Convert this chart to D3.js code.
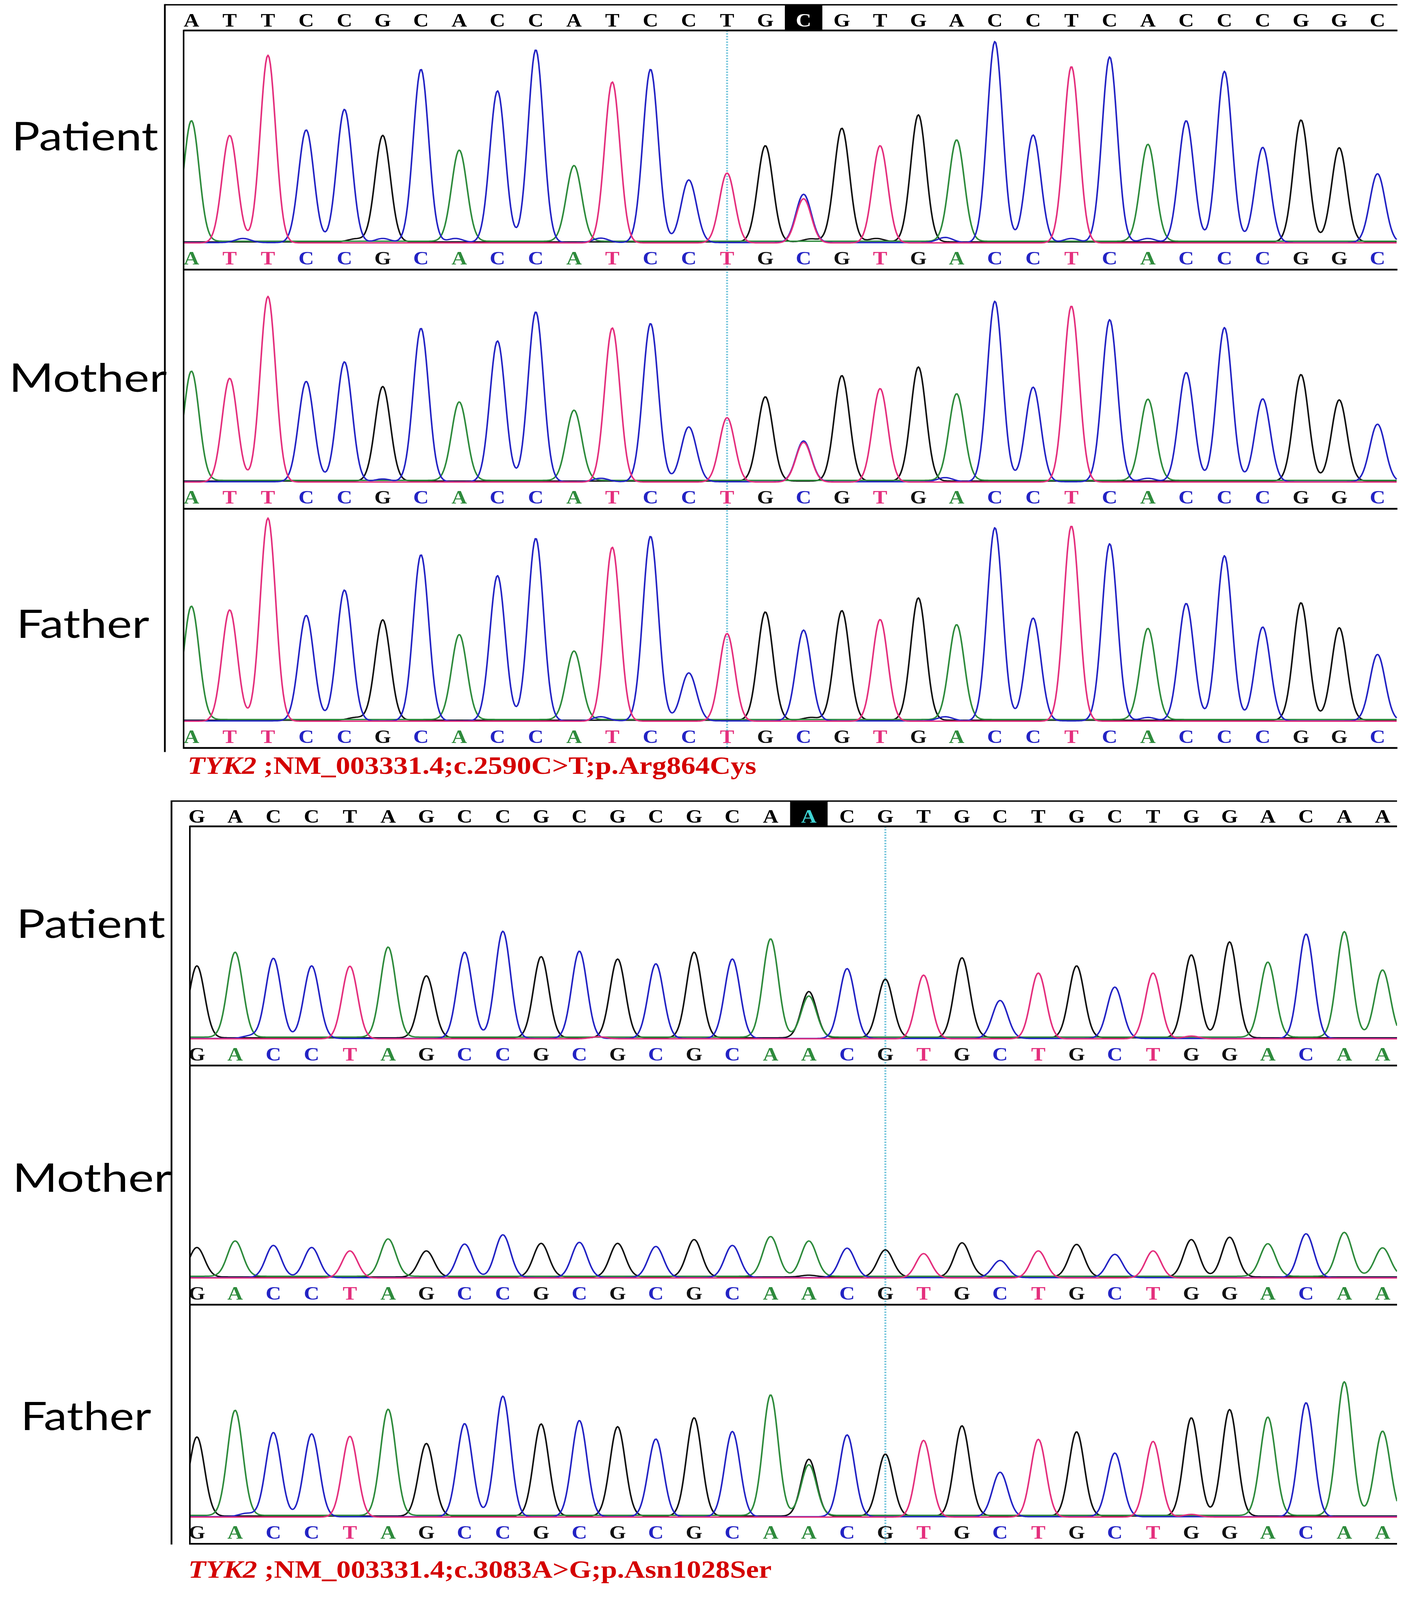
<!DOCTYPE html>
<html lang="en">
<head>
<meta charset="UTF-8">
<title>TYK2 Sanger traces</title>
<style>
html, body { margin: 0; padding: 0; background: #fff; overflow: hidden; }
svg { display: block; background: #fff; width: 100vw; height: 100vh; }
.base { font-family: "Liberation Serif", "DejaVu Serif", serif; font-weight: bold; text-anchor: middle; }
.who { font-family: Lato, "Open Sans", sans-serif; fill: #000; }
.caption { font-family: "Liberation Serif", serif; font-weight: bold; fill: #d40000; }
</style>
</head>
<body>
<svg id="chart" viewBox="0 0 3622 4670" preserveAspectRatio="none"></svg>
<script src="https://d3js.org/d3.v7.min.js"></script>
<script>

// reference sequences (top row) for the two amplicons
var seq1 = "ATTCCGCACCATCCTGCGTGACCTCACCCGGC".split("");
var seq2 = "GACCTAGCCGCGCGCAACGTGCTGCTGGACAA".split("");

var members = ["Patient", "Mother", "Father"];

// peak height of the called base at each position (pixels of signal)
var p1Patient = [352,314,548,329,389,311,506,266,443,563,221,470,506,183,204,281,141,332,284,371,296,587,314,515,542,283,356,500,278,356,275,201];
var p1Mother  = [319,303,542,293,350,276,448,229,411,496,205,450,462,160,188,246,119,308,273,333,253,527,276,514,473,237,319,450,242,311,237,168];
var p1Father  = [331,325,593,308,382,293,485,248,424,533,200,508,539,140,256,316,265,320,297,357,277,564,300,570,517,266,343,482,274,343,270,194];

var p2Patient = [210,248,234,212,212,263,181,252,313,237,255,230,218,250,232,287,120,204,171,186,231,111,192,210,150,192,242,280,219,305,308,196];
var p2Mother  = [86,103,94,88,79,109,76,98,125,98,103,98,91,109,94,116,103,86,79,71,98,50,79,95,68,79,109,116,95,128,128,83];
var p2Father  = [231,307,246,242,236,310,212,272,352,269,281,261,227,287,249,352,148,239,181,224,261,130,227,246,186,221,287,311,287,333,390,246];

// second peaks (heterozygous calls) and small bumps: [position, base, height]
var p1PatientExtra = [[16,"T",129],[1.35,"C",12],[4.3,"G",9],[5,"C",12],[6.9,"C",12],[10.7,"C",13],[16.2,"G",9],[17.9,"G",10],[19.7,"C",15],[23,"C",12],[25,"C",12]];
var p1MotherExtra  = [[16,"T",116],[5,"C",8],[10.7,"C",10],[19.7,"C",12],[25,"C",10]];
var p1FatherExtra  = [[4.3,"G",8],[10.7,"C",12],[16.2,"G",8],[19.7,"C",12],[25,"C",10]];
var p2PatientExtra = [[16,"G",135],[1.4,"C",8],[10.5,"T",6],[20.3,"G",8],[26,"T",8]];
var p2MotherExtra  = [[16,"G",5],[20.3,"G",5]];
var p2FatherExtra  = [[16,"G",166],[1.3,"C",10],[20.3,"G",8],[26,"T",8]];

var captions = [
    ["TYK2", " ;NM_003331.4;c.2590C>T;p.Arg864Cys"],
    ["TYK2", " ;NM_003331.4;c.3083A>G;p.Asn1028Ser"]
];

var baseColor = {A: "#2e8b3c", C: "#2323c4", G: "#111111", T: "#e42f7d"};
var drawOrder = ["G", "A", "C", "T"];
var baseShift = {G: 0, A: -2, C: 2, T: 3};

var rowH = 698, baseOff = 617, letterOff = 683;
var sigma = 0.2;

var svg = d3.select("#chart");

var panels = [
    { seq: seq1, heights: [p1Patient, p1Mother, p1Father], extras: [p1PatientExtra, p1MotherExtra, p1FatherExtra],
      outerTop: 14, top: 89, outerLeft: 422, innerLeft: 470, right: 3577, firstX: 490, lastX: 3526,
      hi: 16, hiFill: "#ffffff", dot: 14, outerExt: 12,
      labels: [[30, 439, 375], [23, 1143, 404], [42, 1862, 340]],
      capX: 480, capY: 2259, capW: 1456 },
    { seq: seq2, heights: [p2Patient, p2Mother, p2Father], extras: [p2PatientExtra, p2MotherExtra, p2FatherExtra],
      outerTop: 2338, top: 2412, outerLeft: 439, innerLeft: 486, right: 3576, firstX: 504, lastX: 3539,
      hi: 16, hiFill: "#3fd3d3", dot: 18, outerExt: 2,
      labels: [[42, 2737, 381], [32, 3479, 407], [53, 4174, 334]],
      capX: 482, capY: 4605, capW: 1493 }
];

panels.forEach(function(p, pi) {
    var g = svg.append("g");
    var posToX = d3.scaleLinear().domain([0, p.seq.length - 1]).range([p.firstX, p.lastX]);
    var bottom = p.top + 3 * rowH;

    // family labels (drawn first so the frame sits over them)
    members.forEach(function(m, r) {
        var lb = p.labels[r];
        g.append("text").attr("class", "who")
            .attr("x", lb[0]).attr("y", lb[1])
            .attr("font-size", 114)
            .attr("textLength", lb[2]).attr("lengthAdjust", "spacingAndGlyphs")
            .text(m);
    });

    // dotted marker
    g.append("line")
        .attr("x1", posToX(p.dot)).attr("x2", posToX(p.dot))
        .attr("y1", p.top).attr("y2", bottom)
        .attr("stroke", "#6fc3da").attr("stroke-width", 5)
        .attr("stroke-dasharray", "4,4");

    // top reference row
    g.append("rect")
        .attr("x", posToX(p.hi) - 48).attr("y", p.outerTop)
        .attr("width", 96).attr("height", p.top - p.outerTop)
        .attr("fill", "#000");

    g.selectAll(".topbase").data(p.seq).enter().append("text")
        .attr("class", "base")
        .attr("x", function(d, i) { return posToX(i); })
        .attr("y", p.outerTop + 63)
        .attr("font-size", 55)
        .attr("fill", function(d, i) { return i === p.hi ? p.hiFill : "#000"; })
        .text(function(d) { return d; });

    members.forEach(function(m, r) {
        var rowTop = p.top + r * rowH;
        var baseline = rowTop + baseOff;
        var y = d3.scaleLinear().domain([0, baseOff]).range([baseline, rowTop]);

        var peaks = p.seq.map(function(b, i) { return {pos: i, base: b, h: p.heights[r][i]}; });
        p.extras[r].forEach(function(e) { peaks.push({pos: e[0], base: e[1], h: e[2]}); });

        var clipId = "clip" + pi + "_" + r;
        svg.append("clipPath").attr("id", clipId).append("rect")
            .attr("x", p.innerLeft).attr("y", rowTop)
            .attr("width", p.right - p.innerLeft).attr("height", baseOff + 14);

        var samples = d3.range(p.innerLeft, p.right + 1, 3).map(function(x) { return posToX.invert(x); });

        var traceG = g.append("g").attr("clip-path", "url(#" + clipId + ")");
        drawOrder.forEach(function(b) {
            var own = peaks.filter(function(k) { return k.base === b; });
            var pts = samples.map(function(s) {
                var v = 0;
                own.forEach(function(k) {
                    var dx = s - k.pos;
                    v += k.h * Math.exp(-dx * dx / (2 * sigma * sigma));
                });
                return [s, v];
            });
            var line = d3.line()
                .x(function(d) { return posToX(d[0]); })
                .y(function(d) { return y(d[1]) + baseShift[b]; });
            traceG.append("path").datum(pts)
                .attr("d", line)
                .attr("fill", "none")
                .attr("stroke", baseColor[b])
                .attr("stroke-width", 4)
                .attr("stroke-linejoin", "round");
        });

        // called bases
        g.selectAll(".call" + r).data(p.seq).enter().append("text")
            .attr("class", "base")
            .attr("x", function(d, i) { return posToX(i); })
            .attr("y", rowTop + letterOff)
            .attr("font-size", 55)
            .attr("fill", function(d) { return baseColor[d]; })
            .text(function(d) { return d; });

        g.append("line")
            .attr("x1", p.innerLeft - 2).attr("x2", p.right)
            .attr("y1", rowTop + rowH).attr("y2", rowTop + rowH)
            .attr("stroke", "#000").attr("stroke-width", 5);
    });

    // frame
    g.append("line").attr("x1", p.outerLeft).attr("x2", p.right)
        .attr("y1", p.outerTop).attr("y2", p.outerTop)
        .attr("stroke", "#000").attr("stroke-width", 4);
    g.append("line").attr("x1", p.innerLeft).attr("x2", p.right)
        .attr("y1", p.top).attr("y2", p.top)
        .attr("stroke", "#000").attr("stroke-width", 5);
    g.append("line").attr("x1", p.outerLeft).attr("x2", p.outerLeft)
        .attr("y1", p.outerTop - 2).attr("y2", bottom + p.outerExt)
        .attr("stroke", "#000").attr("stroke-width", 4.5);
    g.append("line").attr("x1", p.innerLeft).attr("x2", p.innerLeft)
        .attr("y1", p.top - 2).attr("y2", bottom + 2)
        .attr("stroke", "#000").attr("stroke-width", 4);

    // caption
    var cap = g.append("text").attr("class", "caption")
        .attr("x", p.capX).attr("y", p.capY)
        .attr("font-size", 72)
        .attr("textLength", p.capW).attr("lengthAdjust", "spacingAndGlyphs");
    cap.append("tspan").attr("font-style", "italic").text(captions[pi][0]);
    cap.append("tspan").text(captions[pi][1]);
});

</script>
</body>
</html>
